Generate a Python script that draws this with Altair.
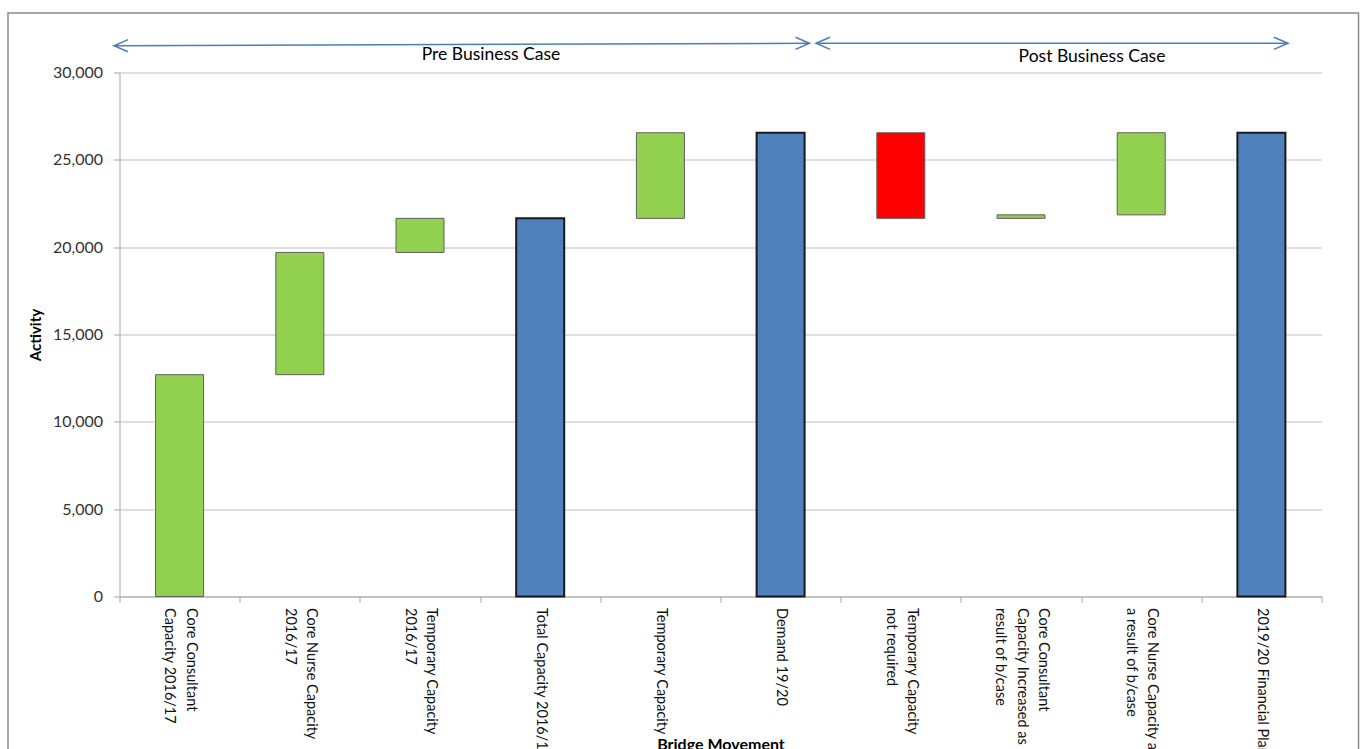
import altair as alt
import pandas as pd

# ---------------- data ----------------
categories = [
    "Core Consultant|Capacity 2016/17",
    "Core Nurse Capacity|2016/17",
    "Temporary Capacity|2016/17",
    "Total Capacity 2016/17",
    "Temporary Capacity",
    "Demand 19/20",
    "Temporary Capacity|not required",
    "Core Consultant|Capacity Increased as a|result of b/case",
    "Core Nurse Capacity as|a result of b/case",
    "2019/20 Financial Plan",
]
bar_start = [0, 12700, 19700, 0, 21650, 0, 26550, 21650, 21850, 0]
bar_end = [12700, 19700, 21650, 21650, 26550, 26550, 21650, 21850, 26550, 26550]
bar_kind = ["Increase", "Increase", "Increase", "Total", "Increase", "Total",
            "Decrease", "Increase", "Increase", "Total"]
kind_domain = ["Increase", "Decrease", "Total"]
kind_colors = ["#92d050", "#ff0000", "#4f81bd"]
section_labels = ["Pre Business Case", "Post Business Case"]
y_ticks = [0, 5000, 10000, 15000, 20000, 25000, 30000]

df = pd.DataFrame({"category": categories, "start": bar_start,
                   "end": bar_end, "kind": bar_kind})

FONT = "Lato"
W, H = 1202, 524
ARROW = "#4a7ebb"
LH = 21.5

label_offset = {
    "condition": [
        {"test": "length(split(datum.value, '|')) == 3", "value": LH},
        {"test": "length(split(datum.value, '|')) == 2", "value": LH / 2},
    ],
    "value": 0,
}

bars = alt.Chart(df).mark_bar(size=48).encode(
    x=alt.X("category:N", sort=None,
            scale=alt.Scale(domain=categories, paddingInner=0, paddingOuter=0),
            axis=alt.Axis(title="Bridge Movement", labelAngle=90, labelAlign="left",
                          labelBaseline="middle", labelExpr="split(datum.label, '|')",
                          labelLineHeight=LH, labelFontSize=14.5, labelLimit=1000,
                          labelOverlap=False, labelPadding=5, labelColor="#111111",
                          labelOffset=label_offset,
                          tickBand="extent", tickSize=6, tickColor="#a6a6a6",
                          domainColor="#a6a6a6", grid=False,
                          titleFontSize=16, titleFontWeight="bold", titleColor="#000000",
                          titleY=140, titleBaseline="top")),
    y=alt.Y("start:Q", scale=alt.Scale(domain=[0, 30000], nice=False),
            axis=alt.Axis(title="Activity", values=y_ticks, format=",d",
                          labelFontSize=16, labelColor="#333333", labelPadding=11,
                          tickSize=6, tickColor="#a6a6a6", domainColor="#a6a6a6",
                          gridColor="#d4d4d4", gridWidth=1.3,
                          titleFontSize=15, titleFontWeight="bold", titleColor="#000000",
                          titleX=-84, titleY=H / 2, titleAngle=270,
                          titleAlign="center", titleBaseline="middle")),
    y2="end:Q",
    color=alt.Color("kind:N", scale=alt.Scale(domain=kind_domain, range=kind_colors),
                    legend=None),
    stroke=alt.condition("datum.kind == 'Total'", alt.value("#1a1a1a"), alt.value("#5f5f5f")),
    strokeWidth=alt.condition("datum.kind == 'Total'", alt.value(2), alt.value(1)),
)

one = alt.Data(values=[{"k": 1}])

frame = alt.Chart(one).mark_rect(fillOpacity=0, stroke="#8a8a8a", strokeWidth=1.5).encode(
    x=alt.value(-111.5), x2=alt.value(1239), y=alt.value(-59.5), y2=alt.value(720))


def rule(x1, x2, y1, y2):
    return alt.Chart(one).mark_rule(color=ARROW, strokeWidth=1.5).encode(
        x=alt.value(x1), x2=alt.value(x2), y=alt.value(y1), y2=alt.value(y2))


RIGHT = "M-2,-0.86L0,0L-2,0.86"
LEFT = "M2,-0.86L0,0L2,0.86"


def head(x, y, shape):
    return alt.Chart(one).mark_point(shape=shape, size=196, filled=False,
                                     color=ARROW, strokeWidth=1.5, opacity=1).encode(
        x=alt.value(x), y=alt.value(y))


def label(i, x, y):
    return alt.Chart(alt.Data(values=[{"t": section_labels[i]}])).mark_text(
        font=FONT, fontSize=17.5, color="#000000", align="center", baseline="alphabetic"
    ).encode(x=alt.value(x), y=alt.value(y), text="t:N")


layers = [
    frame,
    bars,
    rule(-5.5, 690, -26.8, -29.2), head(-5.5, -26.8, LEFT), head(690, -29.2, RIGHT),
    rule(696.5, 1168.5, -29.2, -29.2), head(696.5, -29.2, LEFT), head(1168.5, -29.2, RIGHT),
    label(0, 371.5, -12.5),
    label(1, 972.5, -10.5),
]

chart = alt.layer(*layers).properties(
    width=W, height=H,
    autosize=alt.AutoSizeParams(type="none"),
    padding={"left": 119.5, "top": 72.5, "right": 43.5, "bottom": 152},
).configure(font=FONT).configure_view(stroke=None)

chart.save("out.html", embed_options={"renderer": "svg", "actions": False})
